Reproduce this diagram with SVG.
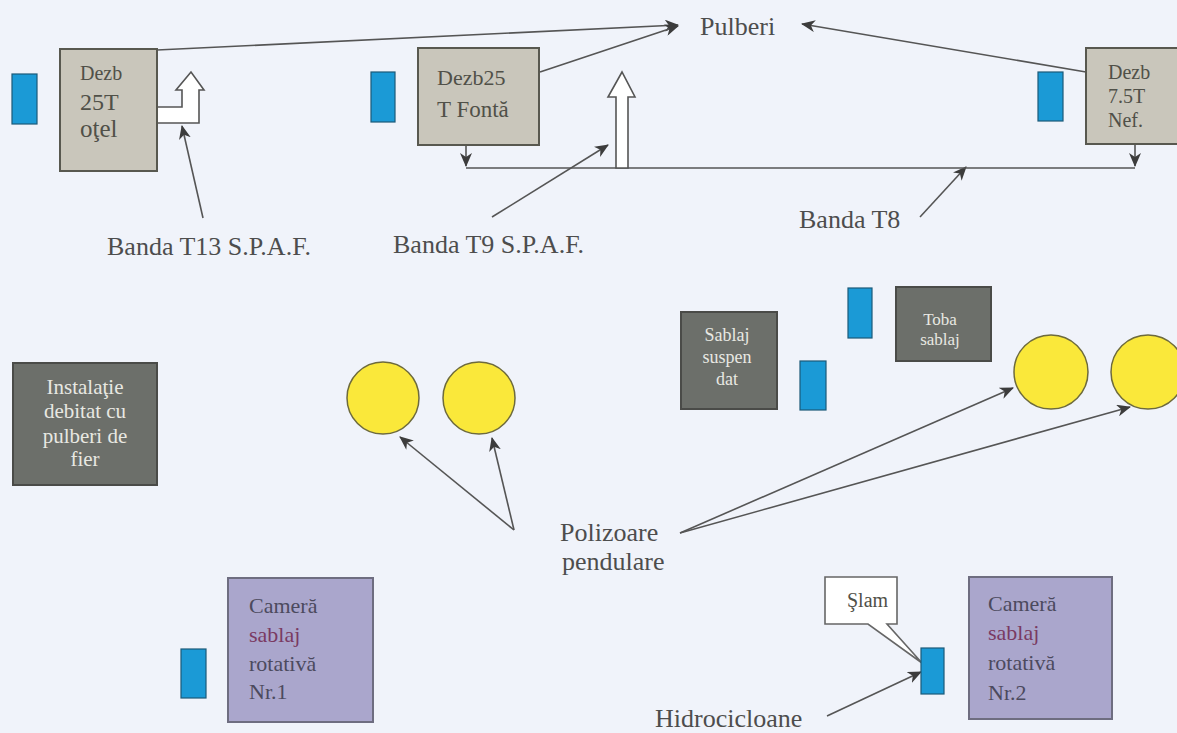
<svg xmlns="http://www.w3.org/2000/svg" width="1177" height="733" viewBox="0 0 1177 733">
<defs>
<marker id="ah" markerUnits="userSpaceOnUse" markerWidth="14" markerHeight="12" viewBox="0 0 14 12" refX="13" refY="6" orient="auto">
<path d="M0,0 L14,6 L0,12 L4,6 Z" fill="#3c3c3c"/>
</marker>
<style>
.bg{fill:#f0f3fa}
.lbl{font-family:"Liberation Serif","Times New Roman",serif;font-size:26px;fill:#4d4d4d}
.tan{fill:#c9c6bb;stroke:#58584f;stroke-width:2}
.dark{fill:#6c6f6a;stroke:#4a4b48;stroke-width:2}
.lav{fill:#aaa6cc;stroke:#6e6d80;stroke-width:2}
.blue{fill:#1b9ad6;stroke:#1c5a78;stroke-width:1.2}
.yel{fill:#fae83a;stroke:#6d6a3c;stroke-width:1.5}
.t{font-family:"Liberation Serif","Times New Roman",serif;fill:#505048}
.tw{font-family:"Liberation Serif","Times New Roman",serif;fill:#e8e8e2;text-anchor:middle}
.tp{font-family:"Liberation Serif","Times New Roman",serif;fill:#4c4a5e;font-size:22px}
.tr{fill:#7a3a62}
.ln{stroke:#555;stroke-width:1.6;fill:none}
.hollow{fill:#ffffff;stroke:#555;stroke-width:1.6}
</style>
</defs>
<rect class="bg" x="0" y="0" width="1177" height="733"/>

<g id="connectors">
<line class="ln" x1="157" y1="50" x2="678" y2="25" marker-end="url(#ah)"/>
<line class="ln" x1="540" y1="72" x2="678" y2="26" marker-end="url(#ah)"/>
<line class="ln" x1="1086" y1="72" x2="802" y2="24" marker-end="url(#ah)"/>
<line class="ln" x1="203" y1="218" x2="182" y2="126" marker-end="url(#ah)"/>
<line class="ln" x1="492" y1="217" x2="608" y2="145" marker-end="url(#ah)"/>
<line class="ln" x1="920" y1="217" x2="966" y2="167" marker-end="url(#ah)"/>
<line class="ln" x1="466" y1="145" x2="466" y2="166" marker-end="url(#ah)"/>
<line class="ln" x1="1135" y1="144" x2="1135" y2="166" marker-end="url(#ah)"/>
<line class="ln" x1="466" y1="168" x2="1135" y2="168"/>
<line class="ln" x1="514" y1="530" x2="400" y2="437" marker-end="url(#ah)"/>
<line class="ln" x1="514" y1="530" x2="492" y2="438" marker-end="url(#ah)"/>
<line class="ln" x1="680" y1="533" x2="1013" y2="388" marker-end="url(#ah)"/>
<line class="ln" x1="680" y1="533" x2="1130" y2="407" marker-end="url(#ah)"/>
<line class="ln" x1="827" y1="716" x2="921" y2="672" marker-end="url(#ah)"/>
<polygon class="hollow" points="157,107 182,107 182,90 176,90 191,72 204,90 199,90 199,123 157,123"/>
<polygon class="hollow" points="616,168 616,97 608,97 622,72 635,97 628,97 628,168"/>
</g>

<g id="pulberi"><text class="lbl" x="700" y="35">Pulberi</text></g>

<g id="blue1"><rect class="blue" x="12" y="74" width="25" height="50"/></g>
<g id="dezb25otel">
<rect class="tan" x="60" y="49" width="97" height="122"/>
<text class="t" x="80" y="80" font-size="20">Dezb</text>
<text class="t" x="80" y="110" font-size="24">25T</text>
<text class="t" x="80" y="137" font-size="25">oţel</text>
</g>
<g id="label-t13"><text class="lbl" x="107" y="255">Banda T13 S.P.A.F.</text></g>

<g id="blue2"><rect class="blue" x="371" y="72" width="24" height="50"/></g>
<g id="dezb25fonta">
<rect class="tan" x="418" y="48" width="121" height="97"/>
<text class="t" x="437" y="85" font-size="22">Dezb25</text>
<text class="t" x="437" y="117" font-size="23">T Fontă</text>
</g>
<g id="label-t9"><text class="lbl" x="393" y="253">Banda T9 S.P.A.F.</text></g>

<g id="blue3"><rect class="blue" x="1038" y="72" width="25" height="49"/></g>
<g id="dezb75nef">
<rect class="tan" x="1086" y="48" width="96" height="96"/>
<text class="t" x="1108" y="79" font-size="20">Dezb</text>
<text class="t" x="1108" y="103" font-size="20">7.5T</text>
<text class="t" x="1108" y="127" font-size="20">Nef.</text>
</g>
<g id="label-t8"><text class="lbl" x="799" y="228">Banda T8</text></g>

<g id="instalatie">
<rect class="dark" x="13" y="363" width="144" height="122"/>
<text class="tw" x="85" y="394" font-size="21">Instalaţie</text>
<text class="tw" x="85" y="418" font-size="21">debitat cu</text>
<text class="tw" x="85" y="443" font-size="21">pulberi de</text>
<text class="tw" x="85" y="466" font-size="21">fier</text>
</g>

<g id="poliz1"><circle class="yel" cx="383" cy="398" r="36"/></g>
<g id="poliz2"><circle class="yel" cx="479" cy="398" r="36"/></g>
<g id="poliz3"><circle class="yel" cx="1051" cy="372" r="37"/></g>
<g id="poliz4"><circle class="yel" cx="1148" cy="372" r="37"/></g>

<g id="sablaj-suspendat">
<rect class="dark" x="681" y="312" width="96" height="97"/>
<text class="tw" x="727" y="341" font-size="18">Sablaj</text>
<text class="tw" x="727" y="363" font-size="18">suspen</text>
<text class="tw" x="727" y="385" font-size="18">dat</text>
</g>
<g id="blue4"><rect class="blue" x="800" y="361" width="26" height="49"/></g>
<g id="blue5"><rect class="blue" x="848" y="288" width="24" height="50"/></g>
<g id="toba">
<rect class="dark" x="896" y="287" width="95" height="74"/>
<text class="tw" x="940" y="325" font-size="17">Toba</text>
<text class="tw" x="940" y="345" font-size="17">sablaj</text>
</g>

<g id="label-polizoare">
<text class="lbl" x="560" y="541">Polizoare</text>
<text class="lbl" x="562" y="570">pendulare</text>
</g>

<g id="blue6"><rect class="blue" x="181" y="649" width="25" height="49"/></g>
<g id="camera1">
<rect class="lav" x="228" y="578" width="145" height="144"/>
<text class="tp" x="249" y="613">Cameră</text>
<text class="tp tr" x="249" y="642">sablaj</text>
<text class="tp" x="249" y="671">rotativă</text>
<text class="tp" x="249" y="699">Nr.1</text>
</g>

<g id="slam">
<path d="M825,577 H897 V624 H887 L922,663 L868,624 H825 Z" fill="#ffffff" stroke="#666" stroke-width="1.6"/>
<text class="t" x="847" y="607" font-size="20">Şlam</text>
</g>
<g id="hidrociclon"><rect class="blue" x="921" y="648" width="23" height="46"/></g>
<g id="camera2">
<rect class="lav" x="969" y="577" width="143" height="142"/>
<text class="tp" x="988" y="611">Cameră</text>
<text class="tp tr" x="988" y="640">sablaj</text>
<text class="tp" x="988" y="670">rotativă</text>
<text class="tp" x="988" y="700">Nr.2</text>
</g>
<g id="label-hidro"><text class="lbl" x="655" y="727">Hidrocicloane</text></g>
</svg>
